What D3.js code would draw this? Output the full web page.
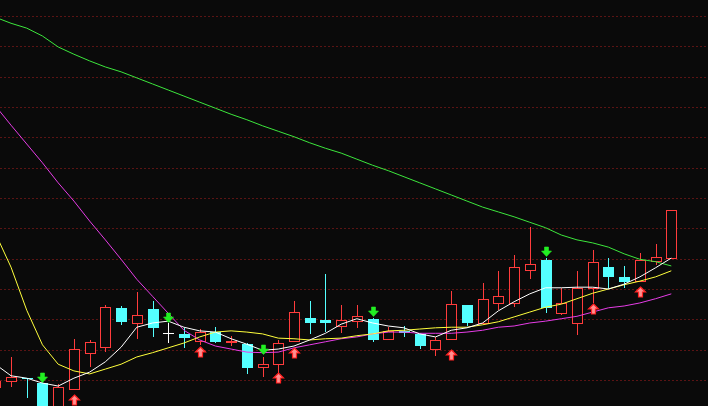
<!DOCTYPE html>
<html><head><meta charset="utf-8">
<script src="https://cdn.jsdelivr.net/npm/d3@7"></script>
<style>html,body{margin:0;padding:0;background:#0a0a0a;overflow:hidden}</style>
</head><body>
<svg id="chart" width="708" height="406"></svg>
<script>
// ---- data (index = trading day) ----
const openP  = [9.88, 9.98, 10.03, 9.95, 9.55, 9.85, 10.45, 10.54, 11.19, 10.94, 11.17, 10.77, 10.76, 10.64, 10.79, 10.64, 10.59, 10.21, 10.26, 10.64, 11.02, 10.99, 10.89, 10.97, 11.01, 10.68, 10.81, 10.76, 10.51, 10.68, 11.24, 10.94, 11.27, 11.27, 11.81, 11.98, 11.10, 10.94, 11.52, 11.86, 11.70, 11.63, 11.96, 12.01];
const closeP = [9.98, 10.05, 10.02, 9.50, 9.88, 10.51, 10.63, 11.20, 10.96, 11.07, 10.86, 10.77, 10.69, 10.79, 10.63, 10.65, 10.20, 10.26, 10.61, 11.12, 10.94, 10.94, 10.99, 11.05, 10.66, 10.81, 10.77, 10.56, 10.66, 11.25, 10.94, 11.34, 11.38, 11.86, 11.91, 11.19, 11.27, 11.52, 11.95, 11.70, 11.62, 11.98, 12.03, 12.80];
const highP  = [9.99, 10.38, 10.03, 9.97, 9.93, 10.68, 10.66, 11.24, 11.22, 11.45, 11.30, 10.94, 10.86, 10.84, 10.87, 10.73, 10.61, 10.38, 10.66, 11.30, 11.30, 11.75, 11.24, 11.24, 11.02, 10.87, 10.89, 10.76, 10.71, 11.47, 11.24, 11.60, 11.80, 12.06, 12.52, 12.01, 11.52, 11.80, 12.14, 12.01, 11.88, 12.09, 12.24, 12.80];
const lowP   = [9.85, 9.88, 9.70, 9.45, 9.50, 9.84, 10.21, 10.46, 10.91, 10.68, 10.71, 10.61, 10.53, 10.58, 10.61, 10.56, 10.10, 10.05, 10.10, 10.64, 10.76, 10.79, 10.77, 10.86, 10.63, 10.66, 10.71, 10.51, 10.40, 10.66, 10.89, 10.92, 11.15, 11.20, 11.66, 11.10, 11.07, 10.74, 11.27, 11.50, 11.52, 11.62, 11.90, 12.01];

const ma5  = [10.26, 10.07, 10.03, 9.95, 9.90, 10.03, 10.13, 10.30, 10.54, 10.87, 10.94, 10.97, 10.87, 10.81, 10.79, 10.68, 10.59, 10.49, 10.51, 10.56, 10.66, 10.77, 10.92, 11.01, 10.94, 10.89, 10.86, 10.76, 10.71, 10.82, 10.86, 10.94, 11.14, 11.29, 11.42, 11.52, 11.52, 11.53, 11.53, 11.50, 11.58, 11.70, 11.85, 12.01];
const ma10 = [12.42, 11.86, 11.15, 10.58, 10.26, 10.15, 10.10, 10.18, 10.26, 10.38, 10.45, 10.53, 10.61, 10.71, 10.79, 10.81, 10.79, 10.76, 10.69, 10.68, 10.66, 10.68, 10.69, 10.73, 10.76, 10.81, 10.82, 10.84, 10.86, 10.87, 10.87, 10.91, 10.96, 11.04, 11.12, 11.20, 11.25, 11.34, 11.43, 11.50, 11.57, 11.63, 11.70, 11.80];
const ma20 = [14.52, 14.20, 13.89, 13.58, 13.25, 12.95, 12.62, 12.31, 11.99, 11.66, 11.38, 11.10, 10.82, 10.66, 10.56, 10.51, 10.46, 10.45, 10.46, 10.53, 10.58, 10.63, 10.68, 10.71, 10.76, 10.79, 10.79, 10.77, 10.77, 10.77, 10.79, 10.82, 10.87, 10.89, 10.94, 10.97, 11.01, 11.05, 11.12, 11.19, 11.22, 11.27, 11.34, 11.42];
const ma60 = [15.98, 15.88, 15.80, 15.67, 15.49, 15.37, 15.26, 15.16, 15.08, 14.98, 14.88, 14.78, 14.68, 14.58, 14.48, 14.38, 14.29, 14.19, 14.10, 14.01, 13.91, 13.82, 13.74, 13.64, 13.54, 13.45, 13.35, 13.25, 13.15, 13.05, 12.95, 12.85, 12.77, 12.69, 12.60, 12.51, 12.39, 12.31, 12.26, 12.19, 12.08, 11.99, 11.95, 11.88];

const sellIdx   = [3, 11, 17, 24, 35];
const sellPrice = [10.12, 11.10, 10.58, 11.20, 12.19];
const buyIdx    = [5, 13, 18, 19, 29, 38, 41];
const buyPrice  = [9.75, 10.54, 10.12, 10.53, 10.49, 11.25, 11.53];

const gridPrices = d3.range(10, 16.01, 0.5);

// ---- scales ----
const W = 708, H = 406;
const x = d3.scaleLinear().domain([0, 43]).range([-4.7, 671.3]);
const y = d3.scaleLinear().domain([10, 16]).range([380, 16]);

const svg = d3.select("#chart");
svg.append("rect").attr("width", W).attr("height", H).attr("fill", "#0a0a0a");

// grid
svg.append("g").selectAll("line").data(gridPrices).join("line")
  .attr("x1", 0).attr("x2", W)
  .attr("y1", d => Math.round(y(d)) + 0.5).attr("y2", d => Math.round(y(d)) + 0.5)
  .attr("stroke", "#5a1414").attr("stroke-width", 1).attr("stroke-dasharray", "2,2");

const candles = d3.range(openP.length).map(i => ({i, o: openP[i], c: closeP[i], h: highP[i], l: lowP[i]}));
const UP = "#ff3c3c", DOWN = "#54ffff", FLAT = "#ffffff";
const colorOf = d => d.c > d.o ? UP : (d.c < d.o ? DOWN : FLAT);
const px = i => Math.round(x(i));

const g = svg.append("g");
candles.forEach(d => {
  const cx = px(d.i) + 0.5;
  const col = colorOf(d);
  const top = Math.round(y(Math.max(d.o, d.c)));
  const bot = Math.round(y(Math.min(d.o, d.c)));
  const hy = Math.round(y(d.h)), ly = Math.round(y(d.l));
  if (d.c > d.o) {
    // hollow red
    g.append("line").attr("x1", cx).attr("x2", cx).attr("y1", hy).attr("y2", top).attr("stroke", col);
    g.append("line").attr("x1", cx).attr("x2", cx).attr("y1", bot).attr("y2", ly).attr("stroke", col);
    const hgt = Math.max(bot - top, 1);
    g.append("rect").attr("x", cx - 5).attr("y", top + 0.5).attr("width", 10).attr("height", hgt)
      .attr("fill", "#0a0a0a").attr("stroke", col).attr("stroke-width", 1);
  } else if (d.c < d.o) {
    g.append("line").attr("x1", cx).attr("x2", cx).attr("y1", hy).attr("y2", ly).attr("stroke", col);
    g.append("rect").attr("x", cx - 5.5).attr("y", top).attr("width", 11).attr("height", Math.max(bot - top, 1))
      .attr("fill", col);
  } else {
    g.append("line").attr("x1", cx).attr("x2", cx).attr("y1", hy).attr("y2", ly).attr("stroke", col);
    g.append("line").attr("x1", cx - 5.5).attr("x2", cx + 5.5).attr("y1", top + 0.5).attr("y2", top + 0.5).attr("stroke", col);
  }
});

// moving averages
const lineGen = d3.line().x((d, i) => x(i)).y(d => y(d));
[[ma60, "#3ce63c"], [ma20, "#e63ce6"], [ma10, "#ffff3c"], [ma5, "#ffffff"]].forEach(([arr, col]) => {
  svg.append("path").datum(arr).attr("d", lineGen).attr("fill", "none").attr("stroke", col).attr("stroke-width", 1);
});

// signal arrows
const sell = sellIdx.map((k, j) => ({i: k, p: sellPrice[j]}));
const buy = buyIdx.map((k, j) => ({i: k, p: buyPrice[j]}));
svg.append("g").selectAll("path").data(sell).join("path")
  .attr("transform", d => `translate(${px(d.i) + 0.5},${Math.round(y(d.p))})`)
  .attr("d", "M-2,0 L2,0 L2,4 L5,4 L0,9.5 L-5,4 L-2,4 Z")
  .attr("fill", "#22ee22").attr("stroke", "#22ee22").attr("stroke-width", 0.6);
svg.append("g").selectAll("path").data(buy).join("path")
  .attr("transform", d => `translate(${px(d.i) + 0.5},${Math.round(y(d.p))})`)
  .attr("d", "M0,0 L5,5 L2,5 L2,10 L-2,10 L-2,5 L-5,5 Z")
  .attr("fill", "#ff9090").attr("stroke", "#ff2020").attr("stroke-width", 1.2);
</script>
</body></html>
